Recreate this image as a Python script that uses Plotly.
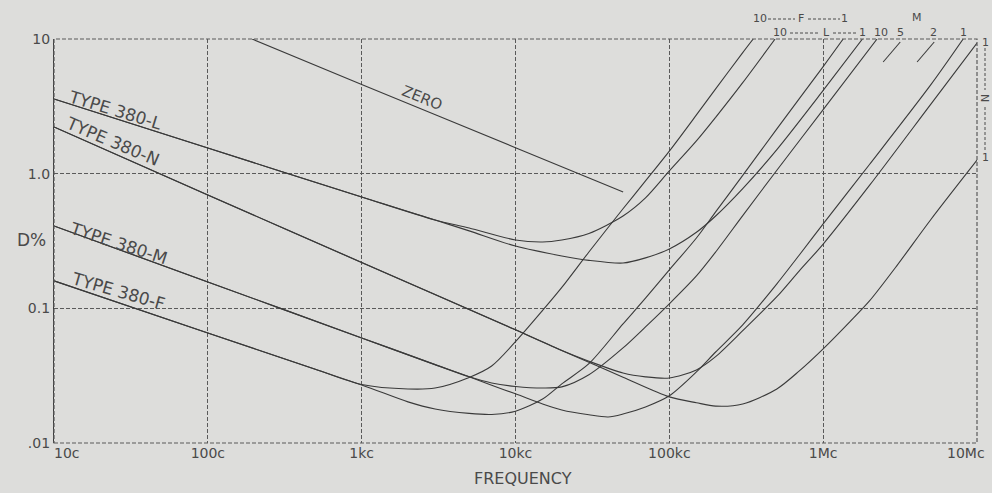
import plotly.graph_objects as go

# ---------------- data ----------------
# frequency in c/s (Hz), dissipation factor D in %
freq_zero = [194, 1000, 10000, 50100]
D_zero = [10, 4.6, 1.56, 0.731]

freq_L10 = [10, 100, 1000, 3000, 5000, 10000, 15000, 20000, 30000, 50000, 70000, 100000, 150000, 200000, 300000, 487000]
D_L10 = [3.59, 1.55, 0.671, 0.453, 0.395, 0.322, 0.311, 0.322, 0.360, 0.485, 0.661, 1.047, 1.75, 2.62, 4.74, 10]

freq_L1 = [10, 100, 1000, 3000, 5000, 10000, 20000, 30000, 50000, 70000, 100000, 150000, 200000, 300000, 500000, 1000000, 1800000]
D_L1 = [3.59, 1.55, 0.671, 0.453, 0.376, 0.29, 0.245, 0.227, 0.217, 0.237, 0.276, 0.367, 0.485, 0.775, 1.51, 4.15, 10]

freq_N_top = [10, 100, 1000, 10000, 20000, 30000, 50000, 70000, 100000, 150000, 200000, 300000, 500000, 700000, 1000000, 2000000, 5000000, 10000000]
D_N_top = [2.22, 0.695, 0.219, 0.0692, 0.0486, 0.0405, 0.0331, 0.0310, 0.0304, 0.0349, 0.0438, 0.0682, 0.122, 0.190, 0.300, 0.818, 3.27, 9.33]

freq_N_bot = [10, 100, 1000, 10000, 20000, 30000, 50000, 100000, 150000, 200000, 300000, 500000, 700000, 1000000, 1500000, 2000000, 3000000, 5000000, 10000000]
D_N_bot = [2.22, 0.695, 0.219, 0.0692, 0.0486, 0.0397, 0.0308, 0.0220, 0.0199, 0.0188, 0.0195, 0.0252, 0.0343, 0.0500, 0.080, 0.1135, 0.206, 0.455, 1.26]

freq_M10 = [10, 100, 1000, 3000, 5000, 7000, 10000, 15000, 20000, 30000, 50000, 70000, 100000, 150000, 200000, 300000, 500000, 1000000, 2240000]
D_M10 = [0.409, 0.157, 0.0603, 0.0382, 0.0310, 0.0279, 0.0263, 0.0256, 0.0261, 0.0321, 0.0508, 0.0728, 0.108, 0.174, 0.262, 0.488, 1.06, 2.99, 10]

freq_M1 = [10, 100, 1000, 3000, 5000, 7000, 10000, 15000, 20000, 30000, 40000, 50000, 70000, 100000, 150000, 200000, 300000, 500000, 700000, 1000000, 2000000, 5000000, 8130000]
D_M1 = [0.409, 0.157, 0.0603, 0.0382, 0.0310, 0.0268, 0.0232, 0.0195, 0.0176, 0.0162, 0.0156, 0.0164, 0.0185, 0.0224, 0.0337, 0.0474, 0.0753, 0.152, 0.249, 0.424, 1.17, 4.56, 10]

freq_M5 = [2455000, 3170000]
D_M5 = [6.75, 9.5]
freq_M2 = [4080000, 5270000]
D_M2 = [6.75, 9.5]

freq_F10 = [10, 100, 500, 1000, 2000, 3000, 5000, 7000, 10000, 15000, 20000, 30000, 50000, 70000, 100000, 150000, 200000, 300000, 351000]
D_F10 = [0.160, 0.0656, 0.0353, 0.0272, 0.0252, 0.0256, 0.0307, 0.0373, 0.0565, 0.0964, 0.143, 0.262, 0.549, 0.883, 1.47, 2.73, 4.26, 7.92, 10]

freq_F1 = [10, 100, 1000, 2000, 3000, 5000, 7000, 10000, 15000, 20000, 30000, 50000, 70000, 100000, 150000, 200000, 300000, 500000, 1000000, 1349000]
D_F1 = [0.160, 0.0656, 0.0270, 0.0202, 0.0179, 0.0166, 0.0163, 0.0172, 0.0212, 0.0275, 0.0388, 0.0766, 0.119, 0.193, 0.333, 0.520, 0.970, 2.15, 6.24, 10]

# inner decade ticks go through the axis; the two end labels sit inset
x_tick_vals = [100, 1000, 10000, 100000, 1000000]
x_tick_text = ["100c", "1kc", "10kc", "100kc", "1Mc"]
x_end_labels = ["10c", "10Mc"]
y_tick_vals = [0.01, 0.1, 1, 10]
y_tick_text = [".01", "0.1", "1.0", "10"]

curve_labels = ["TYPE 380-L", "TYPE 380-N", "TYPE 380-M", "TYPE 380-F"]

# ---------------- style / layout ----------------
BG = "#dddddb"
INK = "#3a3a3a"
GRID = "#5a5a5a"
TXT = "#4a4a4a"
FONT = "DejaVu Sans"

L, R, T, B = 54, 15, 39, 50
W, H = 992, 493
PW, PH = W - L - R, H - T - B


def px(xp):
    return (xp - L) / PW


def py(yp):
    return (H - B - yp) / PH


fig = go.Figure()

series = [
    (freq_zero, D_zero), (freq_L10, D_L10), (freq_L1, D_L1),
    (freq_N_top, D_N_top), (freq_N_bot, D_N_bot),
    (freq_M10, D_M10), (freq_M1, D_M1), (freq_M5, D_M5), (freq_M2, D_M2),
    (freq_F10, D_F10), (freq_F1, D_F1),
]
for f, d in series:
    fig.add_trace(go.Scatter(
        x=f, y=d, mode="lines",
        line=dict(color=INK, width=1.1, shape="spline", smoothing=0.8),
        hoverinfo="skip", showlegend=False))

fig.update_layout(
    width=W, height=H,
    margin=dict(l=L, r=R, t=T, b=B),
    paper_bgcolor=BG, plot_bgcolor=BG,
    showlegend=False,
    font=dict(family=FONT, color=TXT, size=14),
)
fig.update_xaxes(
    type="log", range=[1, 7], tickvals=x_tick_vals, ticktext=x_tick_text,
    showgrid=True, gridcolor=GRID, gridwidth=1, griddash="4px,2px",
    zeroline=False, showline=False, ticks="", tickfont=dict(size=14, color=TXT),
)
fig.update_yaxes(
    type="log", range=[-2, 1], tickvals=y_tick_vals, ticktext=y_tick_text,
    showgrid=True, gridcolor=GRID, gridwidth=1, griddash="4px,2px",
    zeroline=False, showline=True, linecolor=INK, linewidth=1.2,
    ticks="", tickfont=dict(size=14, color=TXT),
)

shapes = [
    dict(type="rect", xref="paper", yref="paper", x0=0, x1=1, y0=0, y1=1,
         line=dict(color=GRID, width=1.2, dash="4px,2px")),
]
# top label dash segments
for (a, b, y) in [(768, 795, 19), (808, 840, 19), (790, 820, 33), (833, 858, 33)]:
    shapes.append(dict(type="line", xref="paper", yref="paper",
                       x0=px(a), x1=px(b), y0=py(y), y1=py(y),
                       line=dict(color=TXT, width=1, dash="3px,2px")))
# right N bracket
for (a, b) in [(48, 90), (107, 150)]:
    shapes.append(dict(type="line", xref="paper", yref="paper",
                       x0=px(985), x1=px(985), y0=py(a), y1=py(b),
                       line=dict(color=TXT, width=1, dash="3px,2px")))
fig.update_layout(shapes=shapes)

ann = []


def add_text(text, x, y, size=14, angle=0):
    ann.append(dict(text=text, x=px(x), y=py(y), xref="paper", yref="paper",
                    showarrow=False, xanchor="center", yanchor="middle",
                    textangle=angle, font=dict(family=FONT, size=size, color=TXT)))


add_text(x_end_labels[0], 67, 453, 14)
add_text(x_end_labels[1], 966, 453, 14)

add_text(curve_labels[0], 115, 110, 17, 17)
add_text(curve_labels[1], 112, 141, 17, 23)
add_text(curve_labels[2], 118, 243, 17, 18)
add_text(curve_labels[3], 118, 291, 17, 16)
add_text("ZERO", 422, 98, 15, 22)
add_text("D%", 31, 240, 17)
add_text("FREQUENCY", 523, 478, 16)

# top family labels
add_text("10", 760, 19, 11)
add_text("F", 801, 19, 11)
add_text("1", 844, 19, 11)
add_text("M", 917, 18, 11)
add_text("10", 780, 33, 11)
add_text("L", 826, 33, 11)
add_text("1", 862, 33, 11)
add_text("10", 881, 33, 11)
add_text("5", 900, 33, 11)
add_text("2", 933, 33, 11)
add_text("1", 963, 33, 11)
add_text("1", 985, 42, 11)
add_text("N", 985, 98, 11, 90)
add_text("1", 985, 157, 11)

fig.update_layout(annotations=ann)

fig.write_html(
    "out.html",
    config={"displayModeBar": False},
    post_script="document.body.style.margin='0';document.body.style.overflow='hidden';",
)
